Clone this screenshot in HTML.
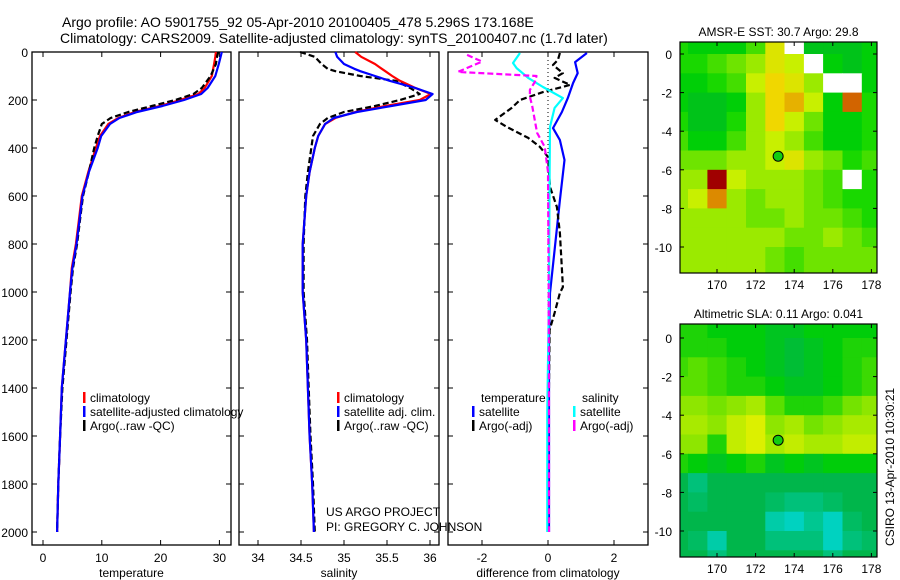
<!DOCTYPE html>
<html><head><meta charset="utf-8"><style>
body{margin:0;background:#fff;}
svg{display:block;font-family:"Liberation Sans",sans-serif;}
</style></head><body>
<svg id="fig" width="900" height="580" viewBox="0 0 900 580">
<text x="62" y="27" font-size="14">Argo profile: AO 5901755_92 05-Apr-2010 20100405_478 5.296S 173.168E</text>
<text x="60" y="43" font-size="14">Climatology: CARS2009. Satellite-adjusted climatology: synTS_20100407.nc (1.7d later)</text>
<g id="plots"></g>
<text x="326" y="516" font-size="12">US ARGO PROJECT</text>
<text x="326" y="531" font-size="12">PI: GREGORY C. JOHNSON</text>
<text transform="translate(894,467) rotate(-90)" text-anchor="middle" font-size="12">CSIRO 13-Apr-2010 10:30:21</text>
</svg>
<script>
// ---- Temperature data ----
const tDepth=[0,20,50,100,150,175,200,225,250,275,300,350,400,500,600,700,800,900,1000,1200,1400,1600,1800,2000];
const tClim=[29.4,29.3,29.1,28.7,27.5,26.4,23.3,19.9,15.6,12.8,11.1,9.7,9.0,7.7,6.6,6.1,5.6,4.9,4.6,3.9,3.2,2.9,2.6,2.4];
const tSat=[30.4,30.2,29.9,29.3,28.0,26.9,24.0,20.3,16.0,13.0,11.4,9.9,9.3,7.8,6.7,6.2,5.7,5.0,4.6,3.9,3.2,2.9,2.6,2.4];
const tArgo=[29.8,29.6,29.4,28.5,27.0,25.6,22.5,18.5,14.5,11.5,10.0,9.3,8.7,7.8,6.8,6.3,5.8,5.1,4.7,4.0,3.3,2.9,2.6,2.4];
// ---- Salinity data ----
const sDepth=[0,20,50,70,80,100,120,150,175,200,225,250,275,300,350,400,500,600,800,1000,1200,1400,1600,1800,2000];
const sClim=[35.13,35.2,35.36,35.44,35.48,35.56,35.65,35.83,36.01,35.88,35.48,35.13,34.9,34.78,34.7,34.66,34.6,34.56,34.52,34.52,34.56,34.58,34.6,34.63,34.65];
const sSat=[34.9,34.92,35.0,35.12,35.19,35.36,35.53,35.83,36.03,35.95,35.55,35.15,34.88,34.78,34.7,34.66,34.6,34.56,34.52,34.52,34.56,34.58,34.6,34.63,34.65];
const sArgo=[34.49,34.66,34.74,34.81,34.9,35.19,35.6,35.77,35.88,35.65,35.36,35.0,34.81,34.72,34.64,34.62,34.58,34.55,34.53,34.53,34.57,34.59,34.61,34.64,34.66];
// ---- Difference data ----
const dTSatDepth=[4,42,88,129,192,250,317,367,450,617,825,1004,1200,1600,2000];
const dTSatVal=[1.18,0.82,0.9,0.76,0.6,0.42,0.15,0.36,0.5,0.36,0.2,0.06,0.03,0.03,0.03];
const dTArgoDepth=[4,33,54,88,108,137,167,200,233,283,312,358,395,437,562,646,754,979,1004,1087,1158,1500,2000];
const dTArgoVal=[0.36,0.3,0.15,0.45,0.2,0.67,-0.15,-0.85,-1.1,-1.6,-1.25,-0.6,-0.25,0,0.06,0.27,0.36,0.45,0.36,0.2,0.05,0.02,0.02];
const dSSatDepth=[4,46,67,108,146,192,233,312,500,1000,1500,2000];
const dSSatVal=[-0.85,-1.06,-0.95,-0.6,-0.15,0.45,0.2,0.06,0.05,0.03,-0.02,-0.02];
const dSArgoDepth=[12,40,83,100,125,158,187,225,337,395,500,1000,1500,2000];
const dSArgoVal=[-2.45,-2.0,-2.73,-0.35,-0.4,-0.55,-0.55,-0.48,-0.33,-0.1,0,0.02,0.03,0.03];
// ---- Map data (1-degree cells, lon 168..178, lat 0.5..-11.5) ----
const mapLons=[168,169,170,171,172,173,174,175,176,177,178];
const mapLats=[0.5,-0.5,-1.5,-2.5,-3.5,-4.5,-5.5,-6.5,-7.5,-8.5,-9.5,-10.5,-11.5];
const sstGrid=[
[.35,.3,.3,.3,.4,.6,-1,.25,.25,.25,.3],
[.35,.35,.4,.45,.5,.6,.55,-1,.3,.25,.3],
[.3,.3,.35,.4,.55,.65,.6,.5,-1,-1,.3],
[.3,.25,.25,.3,.5,.65,.7,.55,.3,.8,.35],
[.35,.25,.25,.35,.5,.65,.55,.45,.3,.3,.35],
[.4,.3,.3,.4,.5,.55,.5,.4,.3,.3,.35],
[.45,.45,.45,.5,.5,.55,.6,.5,.45,.35,.4],
[.5,.5,1,.55,.5,.5,.5,.45,.4,-1,.35],
[.5,.55,.75,.5,.45,.5,.5,.45,.4,.35,.35],
[.5,.5,.5,.5,.45,.45,.5,.45,.45,.4,.35],
[.5,.5,.5,.5,.5,.5,.45,.45,.5,.45,.4],
[.5,.5,.5,.5,.5,.45,.4,.45,.45,.45,.45],
[.5,.5,.5,.5,.5,.45,.4,.45,.45,.45,.45]];
const slaGrid=[
[.5,.5,.45,.45,.45,.4,.4,.45,.45,.45,.45],
[.5,.5,.5,.45,.45,.4,.35,.4,.45,.5,.5],
[.55,.6,.55,.5,.45,.4,.35,.4,.45,.5,.55],
[.6,.6,.55,.5,.5,.45,.4,.4,.45,.5,.55],
[.7,.7,.65,.7,.75,.6,.5,.5,.55,.65,.7],
[.75,.75,.7,.8,.85,.7,.75,.65,.7,.75,.75],
[.7,.7,.5,.8,.85,.75,.8,.75,.75,.8,.8],
[.5,.45,.4,.45,.5,.4,.45,.4,.45,.45,.45],
[.3,.2,.3,.3,.3,.3,.3,.3,.3,.3,.3],
[.3,.25,.3,.3,.3,.25,.2,.2,.25,.3,.3],
[.3,.3,.3,.3,.3,.1,.05,.15,.05,.25,.3],
[.3,.25,.1,.3,.3,.2,.2,.2,.05,.2,.25],
[.3,.3,.2,.3,.3,.3,.3,.3,.2,.3,.3]];
const floatLon=173.168, floatLat=-5.296;

const NS='http://www.w3.org/2000/svg';
const root=document.getElementById('plots');
function mk(tag,attrs,parent){const e=document.createElementNS(NS,tag);for(const k in attrs)e.setAttribute(k,attrs[k]);(parent||root).appendChild(e);return e;}
function txt(x,y,s,size,anchor,parent){const t=mk('text',{x:x,y:y,'font-size':size,'text-anchor':anchor||'start'},parent);t.textContent=s;return t;}

const yD=d=>52+d*0.24;
function panel(name,x0,x1,xf,ticks,tickLabels,xlabel,showY){
  const g=mk('g',{});
  
  
  mk('rect',{x:x0,y:52,width:x1-x0,height:493,fill:'none',stroke:'#000','stroke-width':1.3},g);
  ticks.forEach((v,i)=>{const x=xf(v);
    mk('line',{x1:x,x2:x,y1:545,y2:540,stroke:'#000'},g);mk('line',{x1:x,x2:x,y1:52,y2:57,stroke:'#000'},g);
    const t=txt(x,562,tickLabels[i],12,'middle',g);
    
    });
  for(let d=0;d<=2000;d+=200){const y=yD(d);
    mk('line',{x1:x0,x2:x0+5,y1:y,y2:y,stroke:'#000'},g);mk('line',{x1:x1-5,x2:x1,y1:y,y2:y,stroke:'#000'},g);
    if(showY){const t=txt(x0-4,y+5,String(d),12,'end',g);
      
      }}
  const xl=txt((x0+x1)/2,577,xlabel,12,'middle',g);
  
  
  return g;
}
function line(g,xf,depths,vals,color,dash,name){
  const pts=depths.map((d,i)=>xf(vals[i]).toFixed(1)+','+yD(d).toFixed(1)).join(' ');
  const p=mk('polyline',{points:pts,fill:'none',stroke:color,'stroke-width':2.2,'stroke-dasharray':dash||'none','stroke-linejoin':'round'},g);
  
  
}
function legend(g,x,y,items){
  items.forEach((it,i)=>{
    mk('rect',{x:x,y:y+i*14-10,width:2.5,height:11,fill:it[1]},g);
    const t=txt(x+7,y+i*14,it[0],12,'start',g);
    
    });
}
// Temperature panel
const xT=v=>43+v*5.88;
const gT=panel('temperature-panel',32,231,xT,[0,10,20,30],['0','10','20','30'],'temperature',true);
line(gT,xT,tDepth,tClim,'#f00',null,'temp-climatology-line');
line(gT,xT,tDepth,tArgo,'#000','6,3','temp-argo-line');
line(gT,xT,tDepth,tSat,'#00f',null,'temp-satellite-line');
legend(gT,83,402,[['climatology','#f00'],['satellite-adjusted climatology','#00f'],['Argo(..raw -QC)','#000']]);
// Salinity panel
const xS=v=>258+(v-34)*86;
const gS=panel('salinity-panel',239,439,xS,[34,34.5,35,35.5,36],['34','34.5','35','35.5','36'],'salinity',false);
line(gS,xS,sDepth,sClim,'#f00',null,'sal-climatology-line');
line(gS,xS,sDepth,sArgo,'#000','6,3','sal-argo-line');
line(gS,xS,sDepth,sSat,'#00f',null,'sal-satellite-line');
legend(gS,337,402,[['climatology','#f00'],['satellite adj. clim.','#00f'],['Argo(..raw -QC)','#000']]);
// Difference panel
const xDf=v=>548+v*33;
const gD=panel('difference-panel',448,648,xDf,[-2,0,2],['-2','0','2'],'difference from climatology',false);
mk('line',{x1:548,x2:548,y1:52,y2:532,stroke:'#000','stroke-dasharray':'1,3'},gD);
line(gD,xDf,dTSatDepth,dTSatVal,'#00f',null,'diff-temp-satellite-line');
line(gD,xDf,dTArgoDepth,dTArgoVal,'#000','6,3','diff-temp-argo-line');
line(gD,xDf,dSSatDepth,dSSatVal,'#0ff',null,'diff-sal-satellite-line');
line(gD,xDf,dSArgoDepth,dSArgoVal,'#f0f','6,3','diff-sal-argo-line');
const lt=txt(481,402,'temperature',12,'start',gD);
const ls=txt(582,402,'salinity',12,'start',gD);
legend(gD,472,416,[['satellite','#00f'],['Argo(-adj)','#000']]);
legend(gD,573,416,[['satellite','#0ff'],['Argo(-adj)','#f0f']]);

// Maps
function sstColor(v){
  if(v<0)return '#fff';
  const stops=[[0,[0,200,200]],[0.25,[0,195,25]],[0.32,[0,212,0]],[0.45,[110,228,0]],[0.55,[200,240,0]],[0.65,[240,215,0]],[0.8,[210,100,0]],[1,[160,0,0]]];
  return interpColor(stops,v);
}
function slaColor(v){
  const stops=[[0,[0,215,215]],[0.3,[0,182,75]],[0.45,[0,205,10]],[0.6,[90,224,0]],[0.85,[220,240,0]],[1,[240,220,0]]];
  return interpColor(stops,v);
}
function interpColor(stops,v){
  for(let i=1;i<stops.length;i++){if(v<=stops[i][0]){const a=stops[i-1],b=stops[i];const f=(v-a[0])/(b[0]-a[0]);
    return 'rgb('+a[1].map((c,k)=>Math.round(c+(b[1][k]-c)*f)).join(',')+')';}}
  const l=stops[stops.length-1][1];return 'rgb('+l.join(',')+')';
}
function map(name,top,bottom,lat0y,grid,colorFn,title){
  const left=680,right=877,sc=19.3;
  const xL=lon=>717+(lon-170)*sc, yL=lat=>lat0y-lat*sc;
  const g=mk('g',{});
  
  
  const cid='clip'+name;
  const cp=mk('clipPath',{id:cid},g);mk('rect',{x:left,y:top,width:right-left,height:bottom-top},cp);
  const cells=mk('g',{'clip-path':'url(#'+cid+')'},g);
  mapLats.forEach((lat,r)=>mapLons.forEach((lon,c)=>{
    const cell=mk('rect',{x:(xL(lon-0.5)).toFixed(1),y:(yL(lat+0.5)).toFixed(1),width:sc+0.6,height:sc+0.6,fill:colorFn(grid[r][c])},cells);
    
    
  }));
  mk('rect',{x:left,y:top,width:right-left,height:bottom-top,fill:'none',stroke:'#000','stroke-width':1.2},g);
  [170,172,174,176,178].forEach(l=>{const x=xL(l);
    mk('line',{x1:x,x2:x,y1:bottom,y2:bottom-4,stroke:'#000'},g);mk('line',{x1:x,x2:x,y1:top,y2:top+4,stroke:'#000'},g);
    const t=txt(x,bottom+16,String(l),12,'middle',g);});
  [0,-2,-4,-6,-8,-10].forEach(l=>{const y=yL(l);
    mk('line',{x1:left,x2:left+4,y1:y,y2:y,stroke:'#000'},g);mk('line',{x1:right-4,x2:right,y1:y,y2:y,stroke:'#000'},g);
    const t=txt(left-8,y+5,String(l),12,'end',g);});
  const tt=txt((left+right)/2,top-6,title,12,'middle',g);
  
  
  const m=mk('circle',{cx:xL(floatLon),cy:yL(floatLat),r:5,fill:'#1c1',stroke:'#000','stroke-width':1},g);
  
  
}
map('sst-map',42,273,54,sstGrid,sstColor,'AMSR-E SST: 30.7  Argo: 29.8');
map('sla-map',324,557,338,slaGrid,slaColor,'Altimetric SLA: 0.11  Argo: 0.041');
</script>
</body></html>
